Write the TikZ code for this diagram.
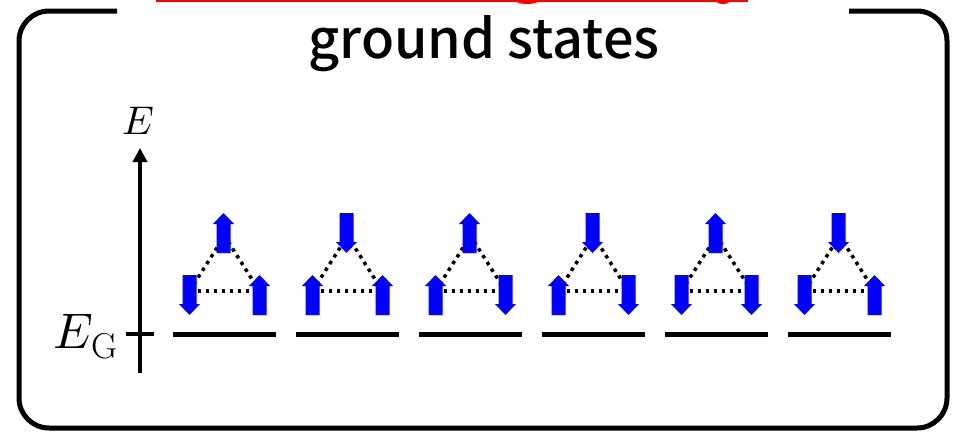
\documentclass[tikz,border=0pt]{standalone}
\usepackage{fontspec}
\usepackage{unicode-math}
\newfontfamily\titlefont{Noto Sans CJK JP Medium}
\usetikzlibrary{arrows.meta}
\tikzset{
  spinu/.pic={\fill[blue] (-7,20) -- (7,20) -- (7,-9) -- (10.5,-9) -- (0,-20) -- (-10.5,-9) -- (-7,-9) -- cycle;},
  spind/.pic={\fill[blue] (-7,-20) -- (7,-20) -- (7,9) -- (10.5,9) -- (0,20) -- (-10.5,9) -- (-7,9) -- cycle;},
  bond/.style={line width=3.5pt,dash pattern=on 3.5pt off 4.5pt},
  levelline/.style={line width=5pt},
  frameline/.style={line width=5pt,rounded corners=30pt},
  axisline/.style={line width=4pt,-{Triangle[length=14pt,width=14pt]}},
}
\begin{document}
\begin{tikzpicture}[x=1pt,y=-1pt]
\useasboundingbox (0,0) rectangle (957,431);
% red underline remnant at top
\fill[red] (156,-1) rectangle (748,2);
\fill[red] (527,0) ellipse [x radius=12, y radius=4];
\fill[red] (723,0) ellipse [x radius=7, y radius=4];
% frame
\draw[frameline] (117,11) -- (19,11) -- (19,428) -- (947,428) -- (947,11) -- (849,11);
% title
\node[anchor=base,inner sep=0] (title) at (484,58) {\titlefont\fontsize{54}{54}\selectfont ground states};
% energy axis
\coordinate (axb) at (140,373);
\coordinate (axt) at (140,148);
\draw[axisline] (axb) -- (axt);
\coordinate (tkl) at (126,334);
\coordinate (tkr) at (154,334);
\draw[line width=4pt] (tkl) -- (tkr);
\node[anchor=base,inner sep=0] (E) at (138,134) {\fontsize{40}{40}\selectfont $E$};
\node[anchor=base west,inner sep=0] (EG) at (53,348) {\fontsize{50}{50}\selectfont $E$\kern-1pt\raisebox{-10pt}{\fontsize{36}{36}\selectfont G}};
% states
\foreach \i/\t/\l/\r in {0/u/d/u,1/d/u/u,2/u/u/d,3/d/u/d,4/u/d/d,5/d/d/u}{
  \pgfmathsetmacro{\c}{224.5+123*\i}
  \coordinate (lvA\i) at (\c-51.5,334);
  \coordinate (lvB\i) at (\c+51.5,334);
  \draw[levelline] (lvA\i) -- (lvB\i);
  \coordinate (vt\i) at (\c,236);
  \coordinate (vl\i) at (\c-35,291);
  \coordinate (vr\i) at (\c+35,291);
  \draw[bond] (vl\i) -- (vt\i) -- (vr\i);
  \draw[bond] (vl\i) -- (vr\i);
  \pic at (\c-1,233) {spin\t};
  \pic at (\c-35,295) {spin\l};
  \pic at (\c+35,295) {spin\r};
}
\end{tikzpicture}
\end{document}
